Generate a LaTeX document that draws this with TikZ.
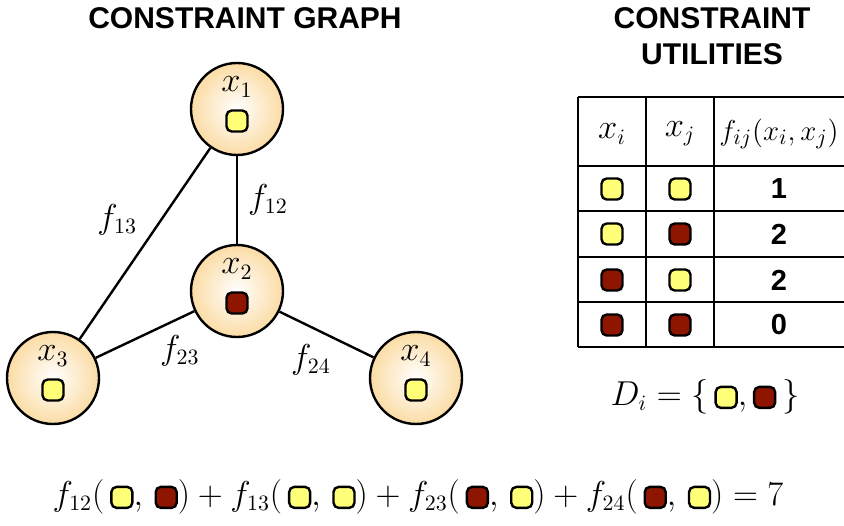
\documentclass[tikz,border=0pt]{standalone}
\usepackage{fontspec}
\setsansfont{Liberation Sans}
\usetikzlibrary{positioning}

\definecolor{yel}{RGB}{255,255,120}
\definecolor{dred}{RGB}{142,22,0}
\definecolor{ballor}{RGB}{251,220,165}

\tikzset{sq/.style={rectangle,draw,line width=1.2pt,fill=#1,rounded corners=2.6pt,minimum size=10.5pt,inner sep=0pt}}
\newcommand{\valsq}[1]{\tikz[baseline=-0.6ex]\node[sq=#1]{};}

\begin{document}
\begin{tikzpicture}[x=0.5pt,y=-0.5pt,line width=1.2pt]
				\tikzstyle{title}=[font=\fontsize{15}{17}\selectfont\sffamily\bfseries,align=center]
				\tikzstyle{var}=[circle,draw,minimum size=46pt,inner sep=0pt,
				shading=radial,inner color=white,outer color=ballor]
				\tikzstyle{lab}=[font=\fontsize{16}{17}\selectfont,inner sep=2pt]
				\tikzstyle{num}=[font=\fontsize{14.5}{16}\selectfont\sffamily\bfseries]
				\useasboundingbox (0,0) rectangle (844,525);
				% titles
				\node[title] (gtitle) at (245,18) {CONSTRAINT GRAPH};
				\node[title] (utitle) at (712,36) {CONSTRAINT\\[1pt] UTILITIES};
				% graph
				\node[var] (x1) at (237,109) {};
				\node[var] (x2) at (237,291) {};
				\node[var] (x3) at (53,378) {};
				\node[var] (x4) at (416,378) {};
				\foreach \v/\c in {1/yel,2/dred,3/yel,4/yel}{
					\node[lab] (x\v name) at ([yshift=11pt]x\v.center) {$x_\v$};
					\node[sq=\c] (x\v val) at ([yshift=-6pt]x\v.center) {};
				}
				\draw (x1) -- node[lab,right=3pt] {$f_{12}$} (x2);
				\draw (x1) -- node[lab,above left=2pt] {$f_{13}$} (x3);
				\draw (x2) -- node[lab,below right=0pt,pos=0.4] {$f_{23}$} (x3);
				\draw (x2) -- node[lab,below left=0pt,pos=0.6] {$f_{24}$} (x4);
				% table
				\draw (578,97) -- (844,97) (578,166) -- (844,166) (578,211) -- (844,211)
				(578,257) -- (844,257) (578,302) -- (844,302) (578,347) -- (844,347);
				\draw (578,97) -- (578,347) (646,97) -- (646,347) (714,97) -- (714,347);
				\node[lab] (hi) at (612,134) {$x_i$};
				\node[lab] (hj) at (680,134) {$x_j$};
				\node[lab,font=\fontsize{15}{16}\selectfont] (hf) at (779,134) {$f_{ij}(x_i,x_j)$};
				\node[sq=yel] (r1i) at (612,189) {};
				\node[sq=yel] (r1j) at (680,189) {};
				\node[num] (r1f) at (779,189) {1};
				\node[sq=yel] (r2i) at (612,234) {};
				\node[sq=dred] (r2j) at (680,234) {};
				\node[num] (r2f) at (779,234) {2};
				\node[sq=dred] (r3i) at (612,280) {};
				\node[sq=yel] (r3j) at (680,280) {};
				\node[num] (r3f) at (779,280) {2};
				\node[sq=dred] (r4i) at (612,325) {};
				\node[sq=dred] (r4j) at (680,325) {};
				\node[num] (r4f) at (779,325) {0};
				\node[lab] (dom) at (705,397) {$D_i=\{\,\valsq{yel},\valsq{dred}\,\}$};
				% total utility
				\node[lab] (total) at (418,497) {$f_{12}(\,\valsq{yel},\,\valsq{dred})+f_{13}(\,\valsq{yel},\,\valsq{yel})+f_{23}(\,\valsq{dred},\,\valsq{yel})+f_{24}(\,\valsq{dred},\,\valsq{yel})=7$};
\end{tikzpicture}
\end{document}
